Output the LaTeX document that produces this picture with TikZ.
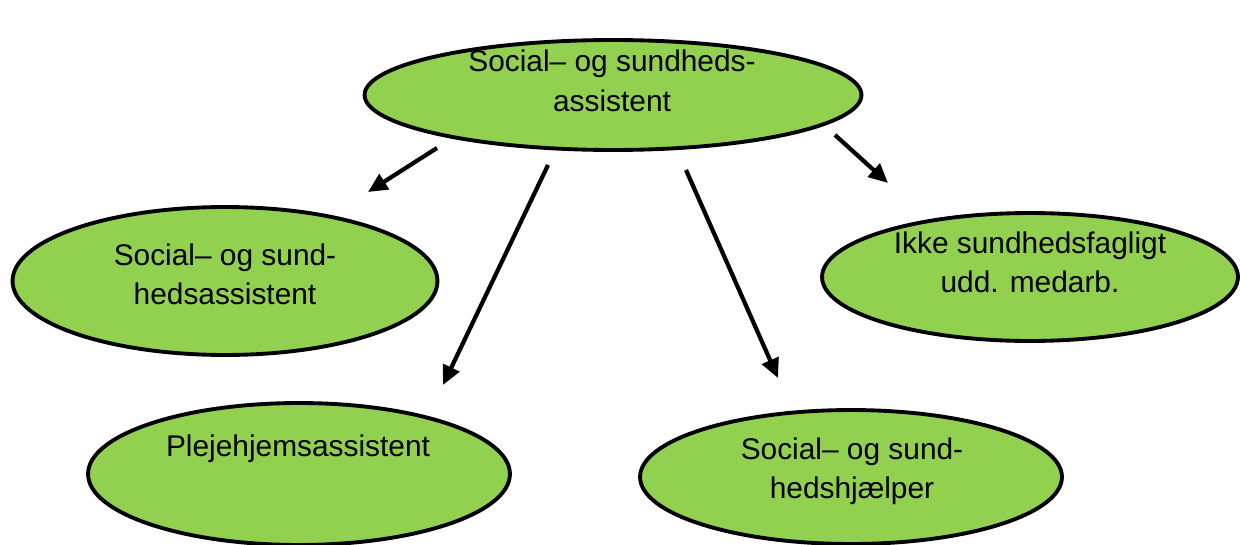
\documentclass[tikz,border=0pt]{standalone}
\usepackage{fontspec}
\setmainfont{Liberation Sans}
\usepackage{tikz}
\usetikzlibrary{positioning,arrows.meta,shapes.geometric,calc}
\definecolor{LeafGreen}{HTML}{92D050}

\begin{document}
\begin{tikzpicture}[x=0.02cm, y=-0.02cm,
  blob/.style={draw=black, line width=2.2pt, ellipse, fill=LeafGreen, inner sep=0pt},
  lbl/.style={align=center, font=\fontsize{17}{22.4}\selectfont, inner sep=0pt},
  arr/.style={line width=2.4pt, -{Triangle[length=11pt,width=10pt]}}]
\useasboundingbox (0,0) rectangle (1240,544);
\node[blob, minimum width=9.94cm, minimum height=2.2cm] (top) at (613,95) {};
\node[blob, minimum width=8.5cm, minimum height=2.96cm] (left) at (225,281) {};
\node[blob, minimum width=8.32cm, minimum height=2.56cm] (right) at (1030,277) {};
\node[blob, minimum width=8.44cm, minimum height=2.84cm] (botl) at (299,474) {};
\node[blob, minimum width=8.44cm, minimum height=2.68cm] (botr) at (851,477) {};
\node[lbl] (ttop) at (612,81) {Social-- og sundheds-\\assistent};
\node[lbl] (tleft) at (225,274) {Social-- og sund-\\hedsassistent};
\node[lbl] (tright) at (1030,262) {Ikke sundhedsfagligt\\udd. medarb.};
\node[lbl] (tbotl) at (298,449) {Plejehjemsassistent};
\node[lbl] (tbotr) at (852,471) {Social-- og sund-\\hedshjælper};
% free arrow ends
\coordinate (a1) at (437,148); \coordinate (b1) at (368,192);
\coordinate (a2) at (548,165); \coordinate (b2) at (443,385);
\coordinate (a3) at (686,170); \coordinate (b3) at (778,378);
\coordinate (a4) at (835,135); \coordinate (b4) at (888,183);
\draw[arr] (a1) -- (b1);
\draw[arr] (a2) -- (b2);
\draw[arr] (a3) -- (b3);
\draw[arr] (a4) -- (b4);
\end{tikzpicture}
\end{document}
